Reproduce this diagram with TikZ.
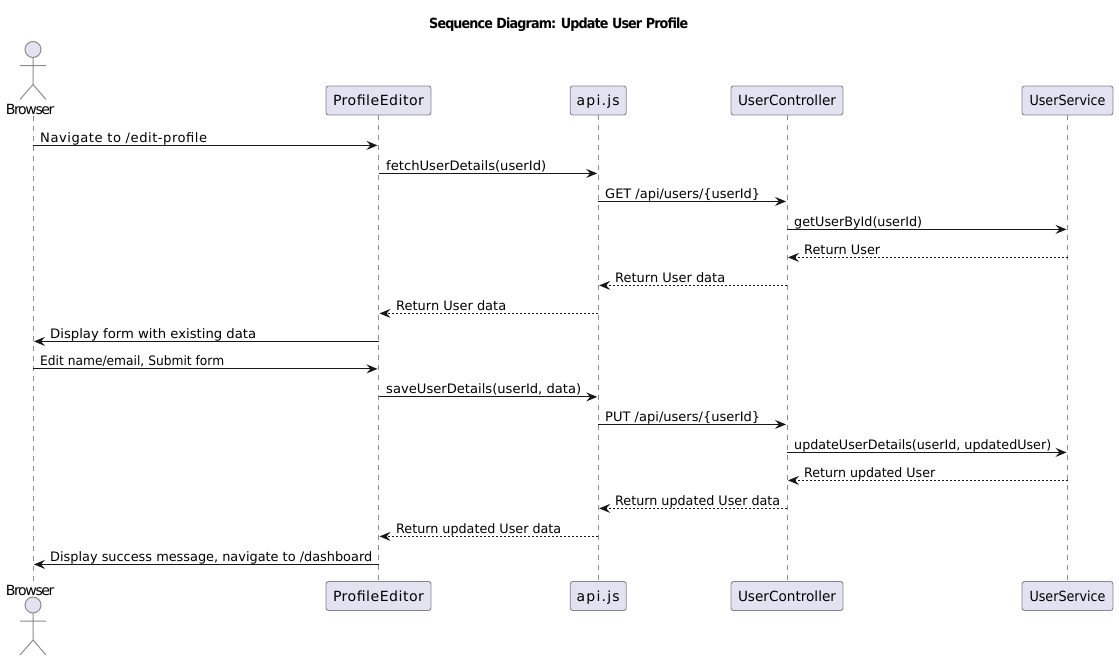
\documentclass[tikz,border=0pt]{standalone}
\usepackage{fontspec}
\usepackage{graphicx}
\setmainfont{DejaVu Sans}
\usetikzlibrary{arrows.meta}
\definecolor{partfill}{HTML}{E2E2F0}
\definecolor{partline}{HTML}{85858F}
\definecolor{lifegray}{HTML}{8C8C8C}
\definecolor{ink}{HTML}{181818}
\definecolor{actline}{HTML}{8C8C8C}
\newcommand{\fitw}[2]{\resizebox{#1pt}{\height}{#2}}
\newcommand{\spaced}[2]{{\addfontfeature{LetterSpace=#1}#2}}
\newcounter{msgc}
\newcommand{\msgline}[7]{%
  \stepcounter{msgc}%
  \draw[#4] (#1 |- 0,#3-0.6) -- (#2 |- 0,#3-0.6);
  \node[msglabel] (label\themsgc) at (#5,#3-4) {\fitw{#6}{#7}};
}
\newcommand{\stickman}[1]{%
  \begin{scope}[yshift=#1pt,actorline]
    \draw[fill=partfill] (33,49.5) circle[radius=8];
    \draw (33,57.5) -- (33,84.5) (20,65.5) -- (46,65.5) (20,99.5) -- (33,84.5) -- (46,99.5);
  \end{scope}
}
\tikzset{
  partbox/.style={draw=partline,fill=partfill,rounded corners=2.5pt,line width=0.9pt,minimum height=29pt,inner sep=0pt,font=\fontsize{14}{16}\selectfont,text=black,text height=10.5pt,text depth=0pt},
  lifeline/.style={draw=lifegray,line width=1pt,dash pattern=on 5pt off 5pt},
  actorline/.style={draw=actline,line width=1pt},
  actorname/.style={inner sep=0pt,anchor=base west,font=\fontsize{14}{16}\selectfont,text=black},
  msglabel/.style={inner sep=0pt,anchor=base west,font=\fontsize{13}{15}\selectfont,text=black},
  callmsg/.style={draw=ink,line width=1pt,shorten >=1pt,-{Stealth[length=11pt,width=9pt,inset=4pt,fill=ink]}},
  replymsg/.style={callmsg,dash pattern=on 2pt off 2pt},
}
\begin{document}
\begin{tikzpicture}[x=1pt,y=-1pt]
\useasboundingbox (0,0) rectangle (1119,662);
\node[inner sep=0pt,anchor=base west,font=\bfseries\fontsize{14}{16}\selectfont] (title) at (429,28) {\fitw{259}{\spaced{-7}{Sequence Diagram: Update User Profile}}};

% top heads
\stickman{0}
\node[actorname] (Browser) at (5.7,114) {\fitw{48.6}{\spaced{-10}{Browser}}};
\node[partbox,minimum width=105pt] (PE) at (378.5,100.5) {\fitw{91}{\spaced{3.3}{ProfileEditor}}};
\node[partbox,minimum width=56pt] (API) at (598.2,100.5) {\fitw{43}{\spaced{8.6}{api.js}}};
\node[partbox,minimum width=112pt] (UC) at (787,100.5) {\fitw{98}{UserController}};
\node[partbox,minimum width=91pt] (US) at (1067.5,100.5) {\fitw{76}{UserService}};

% bottom heads
\stickman{-555.5}
\node[actorname] (BrowserB) at (5.7,595) {\fitw{48.6}{\spaced{-10}{Browser}}};
\node[partbox,minimum width=105pt] (PEb) at (378.5,596) {\fitw{91}{\spaced{3.3}{ProfileEditor}}};
\node[partbox,minimum width=56pt] (APIb) at (598.2,596) {\fitw{43}{\spaced{8.6}{api.js}}};
\node[partbox,minimum width=112pt] (UCb) at (787,596) {\fitw{98}{UserController}};
\node[partbox,minimum width=91pt] (USb) at (1067.5,596) {\fitw{76}{UserService}};

% lifelines
\coordinate (BR) at (33,116);
\coordinate (BRend) at (33,581);
\draw[lifeline] (BR) -- (BRend);
\draw[lifeline] (PE.south) -- (PEb.north);
\draw[lifeline] (API.south) -- (APIb.north);
\draw[lifeline] (UC.south) -- (UCb.north);
\draw[lifeline] (US.south) -- (USb.north);

% messages
\msgline{BR}{PE}{146}{callmsg}{40}{167}{\spaced{3.9}{Navigate to /edit-profile}}
\msgline{PE}{API}{174}{callmsg}{386}{160}{fetchUserDetails(userId)}
\msgline{API}{UC}{202}{callmsg}{605}{155}{GET /api/users/\{userId\}}
\msgline{UC}{US}{230}{callmsg}{794}{128}{getUserById(userId)}
\msgline{US}{UC}{258}{replymsg}{804}{76}{Return User}
\msgline{UC}{API}{286}{replymsg}{615}{110}{Return User data}
\msgline{API}{PE}{314}{replymsg}{396}{110}{Return User data}
\msgline{PE}{BR}{342}{callmsg}{50}{206}{Display form with existing data}
\msgline{BR}{PE}{369.5}{callmsg}{40}{184}{Edit name/email, Submit form}
\msgline{PE}{API}{397.5}{callmsg}{386}{195}{saveUserDetails(userId, data)}
\msgline{API}{UC}{425}{callmsg}{605}{155}{PUT /api/users/\{userId\}}
\msgline{UC}{US}{453}{callmsg}{794}{257}{updateUserDetails(userId, updatedUser)}
\msgline{US}{UC}{481}{replymsg}{804}{131}{Return updated User}
\msgline{UC}{API}{509}{replymsg}{615}{165}{Return updated User data}
\msgline{API}{PE}{537}{replymsg}{396}{165}{Return updated User data}
\msgline{PE}{BR}{565}{callmsg}{50}{322}{Display success message, navigate to /dashboard}
\end{tikzpicture}
\end{document}
